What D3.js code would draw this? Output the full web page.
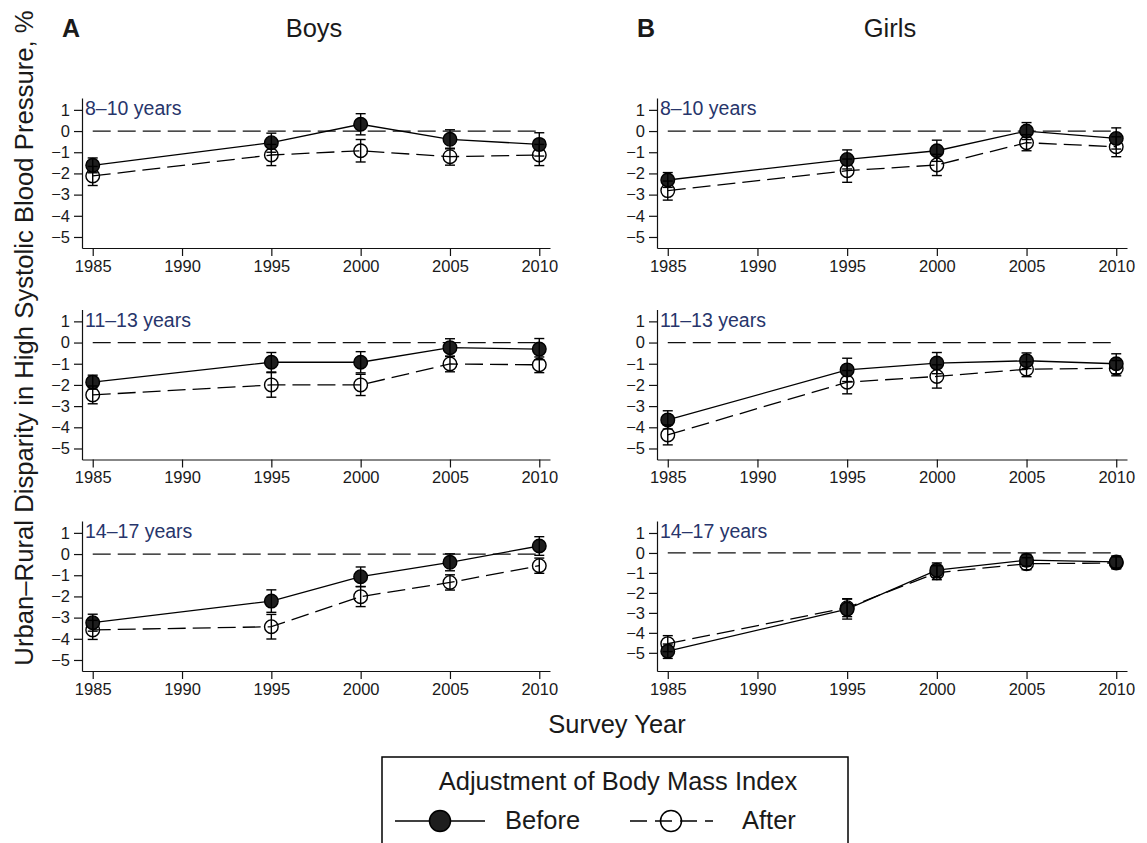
<!DOCTYPE html>
<html>
<head>
<meta charset="UTF-8">
<style>
  body { margin: 0; background: #fff; }
  svg { font-family: "Liberation Sans", Arial, Helvetica, sans-serif; }
  .tick text { font-size: 16.5px; fill: #1a1a1a; }
  .tick line, .domain { stroke: #111; stroke-width: 1.2px; }
</style>
</head>
<body>
<svg id="chart" width="1147" height="843"></svg>
<script src="https://d3js.org/d3.v7.min.js"></script>
<script>

// ---- data ----
const years = [1985, 1995, 2000, 2005, 2010];
const xTicks = [1985, 1990, 1995, 2000, 2005, 2010];
const yTicks = [1, 0, -1, -2, -3, -4, -5];
const ageGroups = ["8–10 years", "11–13 years", "14–17 years"];
const sexes = ["Boys", "Girls"];
const panelLetters = ["A", "B"];

// one row per age group, one value per survey year
const boysBefore = [
  [-1.62, -0.55, 0.32, -0.39, -0.63],
  [-1.87, -0.93, -0.93, -0.24, -0.31],
  [-3.24, -2.22, -1.07, -0.39, 0.38]
];
const boysBeforeErr = [
  [0.35, 0.45, 0.5, 0.45, 0.55],
  [0.33, 0.46, 0.5, 0.42, 0.5],
  [0.4, 0.53, 0.46, 0.4, 0.44]
];
const boysAfter = [
  [-2.12, -1.13, -0.93, -1.21, -1.13],
  [-2.47, -2.0, -2.0, -1.01, -1.05],
  [-3.58, -3.43, -2.01, -1.34, -0.55]
];
const boysAfterErr = [
  [0.45, 0.5, 0.53, 0.4, 0.5],
  [0.42, 0.58, 0.5, 0.37, 0.37],
  [0.45, 0.58, 0.47, 0.36, 0.36]
];
const girlsBefore = [
  [-2.31, -1.34, -0.93, 0.0, -0.35],
  [-3.65, -1.29, -0.97, -0.86, -1.0],
  [-4.92, -2.81, -0.86, -0.36, -0.45]
];
const girlsBeforeErr = [
  [0.35, 0.45, 0.5, 0.4, 0.5],
  [0.43, 0.55, 0.5, 0.37, 0.47],
  [0.36, 0.5, 0.36, 0.3, 0.3]
];
const girlsAfter = [
  [-2.81, -1.87, -1.6, -0.55, -0.74],
  [-4.36, -1.87, -1.6, -1.26, -1.21],
  [-4.54, -2.74, -0.99, -0.54, -0.5]
];
const girlsAfterErr = [
  [0.45, 0.55, 0.5, 0.38, 0.47],
  [0.47, 0.55, 0.55, 0.35, 0.36],
  [0.4, 0.45, 0.35, 0.3, 0.3]
];

// ---- layout ----
const svg = d3.select("#chart");
const colLeft = [82, 657], colWidth = [468, 470];
const rowTop = [98, 309.5, 521], panelH = 150;
const dash = "18,7";
const labelColor = "#27356b";

const before = [boysBefore, girlsBefore], beforeErr = [boysBeforeErr, girlsBeforeErr];
const after = [boysAfter, girlsAfter], afterErr = [boysAfterErr, girlsAfterErr];

function panel(col, row) {
  const g = svg.append("g")
    .attr("transform", `translate(${colLeft[col]},${rowTop[row]})`);

  const x = d3.scaleLinear().domain([1984.4, 2010.6]).range([0, colWidth[col]]);
  // girls 14-17 panel has a slightly stretched range in the original
  const yDom = (col === 1 && row === 2) ? [-5.91, 1.6] : [-5.52, 1.56];
  const y = d3.scaleLinear().domain(yDom).range([panelH, 0]);

  g.append("g")
    .attr("transform", `translate(0,${panelH})`)
    .call(d3.axisBottom(x).tickValues(xTicks).tickFormat(d3.format("d"))
      .tickSize(8).tickSizeOuter(0).tickPadding(4));

  g.append("g")
    .call(d3.axisLeft(y).tickValues(yTicks).tickSize(8).tickSizeOuter(0).tickPadding(4));

  // zero reference line
  g.append("line")
    .attr("x1", x(years[0])).attr("x2", x(years[years.length - 1]))
    .attr("y1", y(0)).attr("y2", y(0))
    .attr("stroke", "#111").attr("stroke-width", 1.3)
    .attr("stroke-dasharray", dash);

  const line = d3.line().x((d, i) => x(years[i])).y(d => y(d));

  const sets = [
    { vals: after[col][row], err: afterErr[col][row], filled: false },
    { vals: before[col][row], err: beforeErr[col][row], filled: true }
  ];

  sets.forEach(s => {
    g.append("path")
      .attr("d", line(s.vals))
      .attr("fill", "none")
      .attr("stroke", "#000")
      .attr("stroke-width", 1.3)
      .attr("stroke-dasharray", s.filled ? null : dash);
  });

  sets.forEach(s => {
    g.selectAll(null)
      .data(s.vals)
      .enter()
      .append("circle")
      .attr("cx", (d, i) => x(years[i]))
      .attr("cy", d => y(d))
      .attr("r", 6.8)
      .attr("fill", s.filled ? "#1e1e1e" : "none")
      .attr("stroke", "#000")
      .attr("stroke-width", 1.4);
  });

  sets.forEach(s => {
    const eb = g.selectAll(null)
      .data(s.vals)
      .enter()
      .append("g")
      .attr("stroke", "#000")
      .attr("stroke-width", 1.4);
    eb.append("line")
      .attr("x1", (d, i) => x(years[i])).attr("x2", (d, i) => x(years[i]))
      .attr("y1", (d, i) => y(d + s.err[i])).attr("y2", (d, i) => y(d - s.err[i]));
    eb.append("line")
      .attr("x1", (d, i) => x(years[i]) - 5).attr("x2", (d, i) => x(years[i]) + 5)
      .attr("y1", (d, i) => y(d + s.err[i])).attr("y2", (d, i) => y(d + s.err[i]));
    eb.append("line")
      .attr("x1", (d, i) => x(years[i]) - 5).attr("x2", (d, i) => x(years[i]) + 5)
      .attr("y1", (d, i) => y(d - s.err[i])).attr("y2", (d, i) => y(d - s.err[i]));
  });

  g.append("text")
    .attr("x", 3).attr("y", 17)
    .attr("font-size", "19.5px")
    .attr("fill", labelColor)
    .text(ageGroups[row]);
}

for (let c = 0; c < 2; c++) {
  for (let r = 0; r < 3; r++) panel(c, r);
  svg.append("text")
    .attr("x", [62, 637][c]).attr("y", 37)
    .attr("font-size", "25px").attr("font-weight", "bold").attr("fill", "#1a1a1a")
    .text(panelLetters[c]);
  svg.append("text")
    .attr("x", colLeft[c] + colWidth[c] / 2 - 2).attr("y", 37)
    .attr("text-anchor", "middle")
    .attr("font-size", "25.5px").attr("fill", "#1a1a1a")
    .text(sexes[c]);
}

// axis titles
svg.append("text")
  .attr("transform", "translate(33,338) rotate(-90)")
  .attr("text-anchor", "middle")
  .attr("font-size", "25.7px").attr("fill", "#1a1a1a")
  .text("Urban–Rural Disparity in High Systolic Blood Pressure, %");

svg.append("text")
  .attr("x", 617).attr("y", 733)
  .attr("text-anchor", "middle")
  .attr("font-size", "25.5px").attr("fill", "#1a1a1a")
  .text("Survey Year");

// legend
const lg = svg.append("g");
lg.append("rect")
  .attr("x", 382).attr("y", 757).attr("width", 466).attr("height", 110)
  .attr("fill", "none").attr("stroke", "#000").attr("stroke-width", 1.5);
lg.append("text")
  .attr("x", 618).attr("y", 790).attr("text-anchor", "middle")
  .attr("font-size", "25.5px").attr("fill", "#1a1a1a")
  .text("Adjustment of Body Mass Index");

lg.append("line").attr("x1", 395).attr("x2", 485).attr("y1", 821).attr("y2", 821)
  .attr("stroke", "#000").attr("stroke-width", 1.5);
lg.append("circle").attr("cx", 440).attr("cy", 821).attr("r", 10.5)
  .attr("fill", "#1e1e1e").attr("stroke", "#000").attr("stroke-width", 1.5);
lg.append("text").attr("x", 505).attr("y", 829)
  .attr("font-size", "25.5px").attr("fill", "#1a1a1a").text("Before");

lg.append("line").attr("x1", 630).attr("x2", 713).attr("y1", 821).attr("y2", 821)
  .attr("stroke", "#000").attr("stroke-width", 1.5).attr("stroke-dasharray", "17,8");
lg.append("circle").attr("cx", 671).attr("cy", 821).attr("r", 10.5)
  .attr("fill", "none").attr("stroke", "#000").attr("stroke-width", 1.5);
lg.append("text").attr("x", 742).attr("y", 829)
  .attr("font-size", "25.5px").attr("fill", "#1a1a1a").text("After");

</script>
</body>
</html>
